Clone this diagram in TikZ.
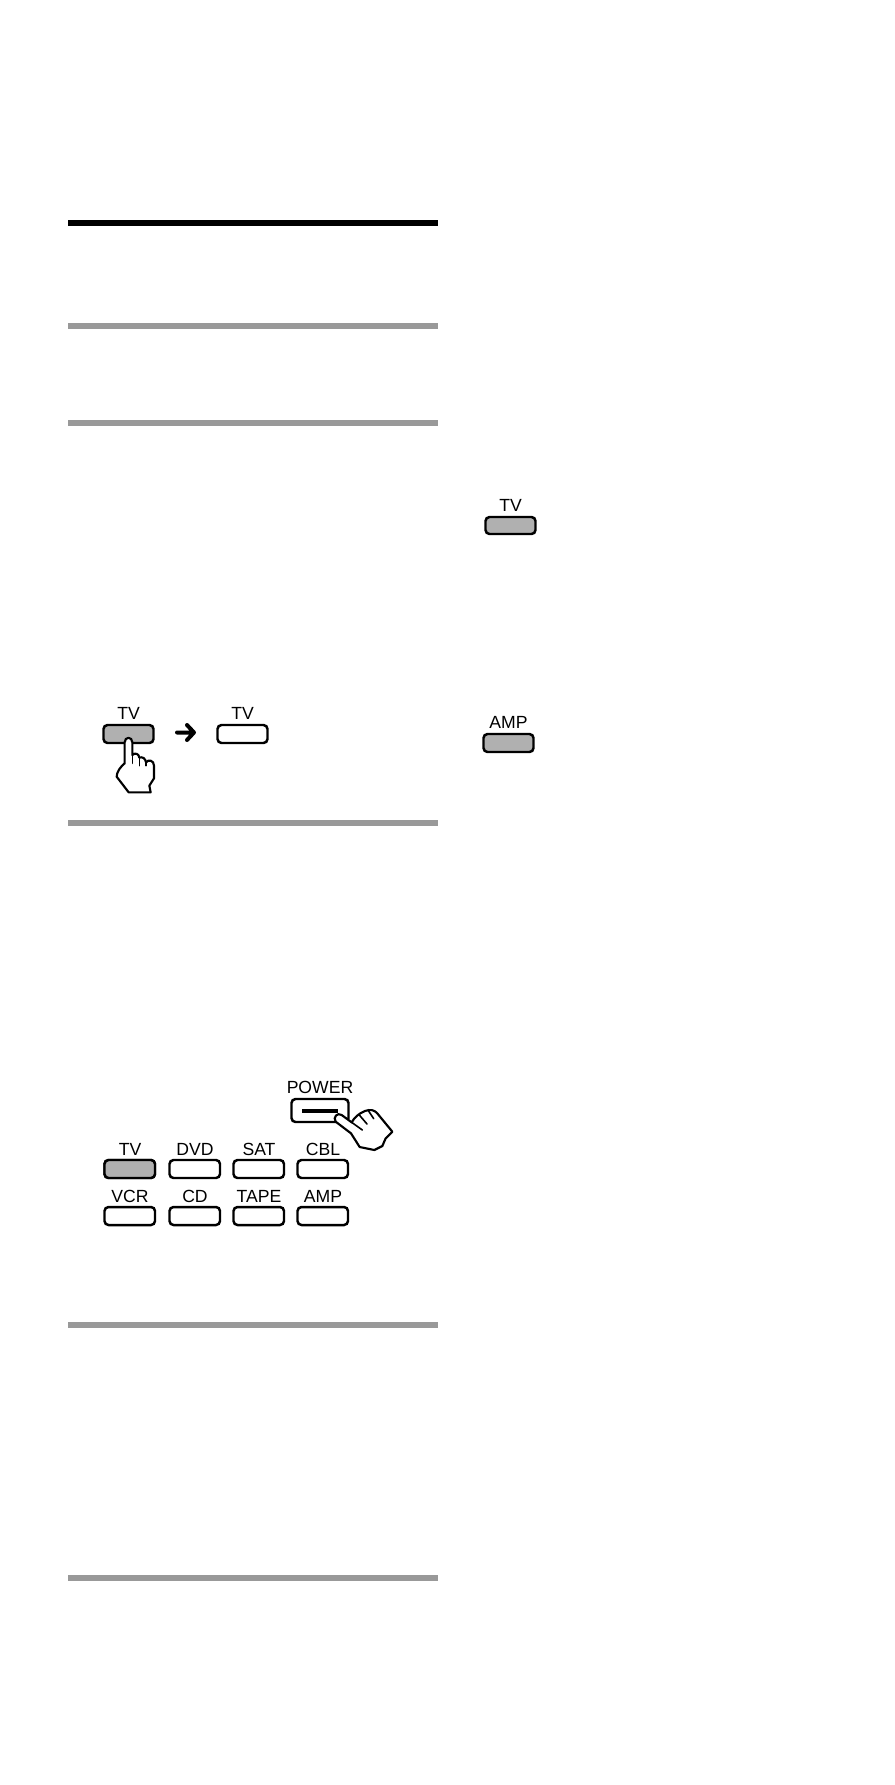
\documentclass[tikz,border=0pt]{standalone}
\usepackage{fontspec}
\setmainfont{Liberation Sans}
\tikzset{
  keybox/.style={draw=black,line width=1.85pt,rounded corners=3pt,fill=white,inner sep=0pt},
  lit/.style={fill=litgray},
  keylabel/.style={inner sep=0pt,font=\fontsize{13.2pt}{15pt}\selectfont,text=black},
  rulebar/.style={fill=rulegray,draw=none},
  handline/.style={draw=black,line width=1.6pt,fill=white,line join=round,line cap=round},
  crease/.style={draw=black,line width=1.2pt,line cap=round}
}
\definecolor{litgray}{gray}{0.69}
\definecolor{rulegray}{gray}{0.6}
\begin{document}
\begin{tikzpicture}[x=0.75pt,y=-0.75pt]
\useasboundingbox (0,0) rectangle (894,1785);
\fill[white] (0,0) rectangle (894,1785);
% rules
\fill[black] (68,220) rectangle (438,226);
\fill[rulebar] (68,323) rectangle (438,329);
\fill[rulebar] (68,420) rectangle (438,426);
\fill[rulebar] (68,820) rectangle (438,826);
\fill[rulebar] (68,1321.5) rectangle (438,1327.5);
\fill[rulebar] (68,1574.5) rectangle (438,1580.5);
% right column
\draw[keybox,lit] (485.5,517) rectangle (535.5,534);
\node[keylabel] (ltv) at (510.5,505.5) {TV};
\draw[keybox,lit] (483.5,734) rectangle (533.5,752);
\node[keylabel] (lamp) at (508.5,722.5) {AMP};
% TV -> TV
\draw[keybox,lit] (103.5,725) rectangle (153.5,743);
\node[keylabel] (la) at (128.5,713.5) {TV};
\draw[keybox] (217.5,725) rectangle (267.5,743);
\node[keylabel] (lb) at (242.5,713.5) {TV};
\draw[black,line width=3pt,line cap=round,line join=round] (177,732.5) -- (194,732.5) (187,725) -- (194,732.5) -- (187,740);
% hand 1
\begin{scope}[shift={(90,695)},x=0.25pt,y=-0.25pt]
\draw[handline] (104,205) -- (104,142) .. controls (104,124) and (127,124) .. (127,142) -- (127,180)
 .. controls (135,172) and (147,176) .. (148,188)
 .. controls (156,184) and (167,190) .. (168,202)
 .. controls (175,192) and (192,196) .. (192,212)
 -- (192,250) -- (178,272) -- (182,292) -- (116,292) -- (80,245) .. controls (80,230) and (92,215) .. (104,205) -- cycle;
\draw[crease] (127,180) -- (127,205) (148,188) -- (148,212) (168,202) -- (168,212);
\end{scope}
% POWER
\node[keylabel] (lp) at (320,1087) {POWER};
\draw[keybox] (291.5,1099) rectangle (348.5,1122);
\draw[black,line width=2.5pt] (302,1111) -- (338,1111);
\begin{scope}[shift={(285,1090)},x=0.25pt,y=-0.25pt]
\draw[handline] (152,95) .. controls (143,82) and (157,66) .. (170,75)
 -- (200,97) .. controls (208,82) and (222,70) .. (240,63)
 .. controls (255,57) and (268,60) .. (276,69)
 -- (322,125) -- (302,145) -- (292,168) -- (268,180) -- (224,171) -- (198,130) -- cycle;
\draw[crease] (200,97) -- (232,120) (222,74) -- (246,102) (250,62) -- (266,86);
\end{scope}
% grid
\foreach \nm/\xa/\txt/\ya in {a/104.5/TV/1160,b/169.5/DVD/1160,c/233.5/SAT/1160,d/297.5/CBL/1160,e/104.5/VCR/1207,f/169.5/CD/1207,g/233.5/TAPE/1207,h/297.5/AMP/1207}{
  \draw[keybox] (\xa,\ya) rectangle ++(50.5,18);
  \node[keylabel] (l\nm) at (\xa+25.5,\ya-11) {\txt};
}
\draw[keybox,lit] (104.5,1160) rectangle ++(50.5,18);
\end{tikzpicture}
\end{document}
